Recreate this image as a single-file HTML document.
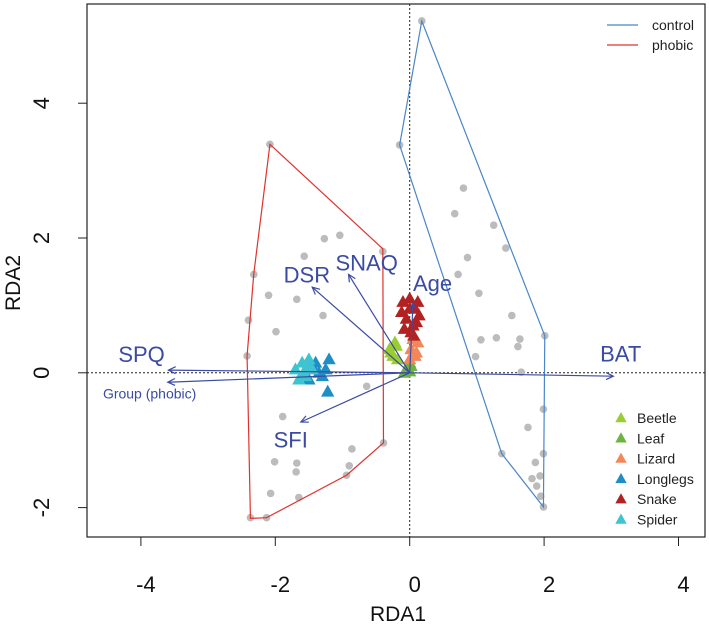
<!DOCTYPE html>
<html><head><meta charset="utf-8"><style>
body{margin:0;background:#fff}
svg{display:block;font-family:"Liberation Sans",Arial,sans-serif}
</style></head><body>
<svg id="chart" width="709" height="626" viewBox="0 0 709 626"></svg>
<script>
const controlX=[0.18,-0.15,0.80,0.67,1.25,1.43,0.86,0.72,1.03,1.52,2.01,1.06,1.29,1.64,1.61,0.98,1.66,1.99,1.76,1.37,1.99,1.87,1.82,1.94,1.89,1.95,1.99];
const controlY=[5.22,3.38,2.74,2.36,2.19,1.85,1.71,1.46,1.18,0.85,0.55,0.49,0.52,0.50,0.39,0.24,0.01,-0.54,-0.81,-1.20,-1.20,-1.33,-1.57,-1.53,-1.68,-1.83,-1.99];
const phobicX=[-2.08,-1.04,-1.27,-1.57,-0.40,-2.32,-2.10,-1.68,-1.29,-2.40,-1.99,-2.42,-0.64,-1.89,-0.86,-0.39,-2.01,-1.68,-1.69,-0.90,-0.94,-2.07,-1.65,-2.37,-2.13];
const phobicY=[3.39,2.04,1.99,1.73,1.80,1.46,1.15,1.09,0.85,0.78,0.61,0.25,-0.20,-0.65,-1.13,-1.04,-1.32,-1.34,-1.47,-1.38,-1.52,-1.79,-1.85,-2.15,-2.15];
const controlHullX=[0.18,-0.15,1.37,1.99,2.01];
const controlHullY=[5.22,3.38,-1.20,-1.99,0.55];
const phobicHullX=[-2.08,-0.40,-0.39,-0.94,-2.13,-2.37,-2.42,-2.32];
const phobicHullY=[3.39,1.84,-1.04,-1.52,-2.15,-2.16,0.25,1.47];
const arrowNames=["DSR","SNAQ","Age","SPQ","Group (phobic)","BAT","SFI"];
const arrowX=[-1.45,-0.91,0.05,-3.59,-3.60,3.03,-1.62];
const arrowY=[1.27,1.46,1.04,0.04,-0.14,-0.05,-0.73];
const labelX=[-1.53,-0.64,0.34,-3.99,-3.87,3.14,-1.77];
const labelY=[1.46,1.64,1.33,0.28,-0.31,0.29,-0.99];
const speciesNames=["Beetle","Leaf","Lizard","Longlegs","Snake","Spider"];
const speciesColors=["#9acd32","#6cb33f","#f4875a","#1e8fc6","#b22222","#3ec3d0"];
const speciesX=[[-0.30,-0.25,-0.20,-0.28,-0.18,-0.22],[-0.05,0.0,0.02,-0.08,0.0,-0.03],[0.02,0.08,0.12,0.05,0.10,0.0],[-1.45,-1.35,-1.25,-1.20,-1.30,-1.40,-1.22,-1.50],[-0.10,0.0,0.08,0.14,-0.05,0.05,0.12,-0.12,0.02,0.10,0.0,0.06,-0.08],[-1.70,-1.60,-1.55,-1.50,-1.65,-1.45,-1.58,-1.52]];
const speciesY=[[0.35,0.25,0.40,0.30,0.20,0.45],[0.05,0.02,0.10,0.0,0.15,0.08],[0.35,0.25,0.45,0.50,0.30,0.20],[0.10,0.0,0.05,0.20,-0.05,0.15,-0.28,-0.10],[1.05,1.10,0.95,0.85,0.80,0.70,1.05,0.90,0.60,0.75,0.95,0.55,0.65],[0.05,0.15,-0.05,0.20,-0.10,0.05,0.0,0.10]];
const xTicks=[-4,-2,0,2,4];
const yTicks=[-2,0,2,4];

const NS="http://www.w3.org/2000/svg";
const svg=document.getElementById('chart');
const X=v=>409.7+v*67.2;
const Y=v=>372.8-v*67.4;
function mk(tag,attrs,parent){const e=document.createElementNS(NS,tag);for(const k in attrs)e.setAttribute(k,attrs[k]);(parent||svg).appendChild(e);return e;}

let e=mk('rect',{x:87,y:4,width:618,height:533,fill:'none',stroke:'#222','stroke-width':1.2});


e=mk('line',{x1:X(0),x2:X(0),y1:4,y2:537,stroke:'#222','stroke-dasharray':'2,2'});


e=mk('line',{x1:87,x2:705,y1:Y(0),y2:Y(0),stroke:'#222','stroke-dasharray':'2,2'});


xTicks.forEach(t=>{
  let l=mk('line',{x1:X(t),x2:X(t),y1:537,y2:546,stroke:'#222'});
  
  
  let tx=mk('text',{x:X(t)+5,y:592,'text-anchor':'middle','font-size':22,fill:'#111'});tx.textContent=t;
  
  
});
yTicks.forEach(t=>{
  let l=mk('line',{x1:78,x2:87,y1:Y(t),y2:Y(t),stroke:'#222'});
  
  
  let tx=mk('text',{x:0,y:0,'text-anchor':'middle','font-size':22,fill:'#111',transform:`translate(49,${Y(t)}) rotate(-90)`});tx.textContent=t;
  
  
});
e=mk('text',{x:398,y:621,'text-anchor':'middle','font-size':21,fill:'#111'});e.textContent='RDA1';


e=mk('text',{x:0,y:0,'text-anchor':'middle','font-size':21,fill:'#111',transform:'translate(20,283) rotate(-90)'});e.textContent='RDA2';



function pts(xs,ys,name){xs.forEach((v,i)=>{let c=mk('circle',{cx:X(v),cy:Y(ys[i]),r:3.8,fill:'#bcbcbc'});
  
  });}
pts(controlX,controlY,'control-point');
pts(phobicX,phobicY,'phobic-point');
e=mk('polygon',{points:controlHullX.map((v,i)=>X(v)+','+Y(controlHullY[i])).join(' '),fill:'none',stroke:'#4a86c8','stroke-width':1.2});


e=mk('polygon',{points:phobicHullX.map((v,i)=>X(v)+','+Y(phobicHullY[i])).join(' '),fill:'none',stroke:'#e0322c','stroke-width':1.2});


function tri(cx,cy,s){return `${cx},${cy-s} ${cx-s*0.95},${cy+s*0.7} ${cx+s*0.95},${cy+s*0.7}`;}
speciesX.forEach((arr,k)=>{arr.forEach((v,i)=>{
  let t=mk('polygon',{points:tri(X(v),Y(speciesY[k][i]),7),fill:speciesColors[k]});
  
  
});});
arrowX.forEach((v,i)=>{
  const x2=X(v),y2=Y(arrowY[i]),x1=X(0),y1=Y(0);
  const a=Math.atan2(y2-y1,x2-x1),h=8,w=0.45;
  let g=mk('g',{stroke:'#3b4aa3','stroke-width':1.2,fill:'none'});
  
  
  mk('line',{x1,y1,x2,y2},g);
  mk('polyline',{points:`${x2-h*Math.cos(a-w)},${y2-h*Math.sin(a-w)} ${x2},${y2} ${x2-h*Math.cos(a+w)},${y2-h*Math.sin(a+w)}`},g);
  const small=arrowNames[i]==='Group (phobic)';
  let t=mk('text',{x:X(labelX[i]),y:Y(labelY[i])+(small?5:8),'text-anchor':'middle','font-size':small?14:22,fill:'#3b4aa3'});
  t.textContent=arrowNames[i];
  
  
});
[['control','#4a86c8',25],['phobic','#e0322c',45]].forEach(d=>{
  let g=mk('g',{});
  
  
  mk('line',{x1:607,x2:638,y1:d[2],y2:d[2],stroke:d[1],'stroke-width':1.2},g);
  let t=mk('text',{x:652,y:d[2]+5,'font-size':14,fill:'#222'},g);t.textContent=d[0];
});
speciesNames.forEach((n,k)=>{
  const y=418+k*20.3;
  let g=mk('g',{});
  
  
  mk('polygon',{points:tri(621,y,6),fill:speciesColors[k]},g);
  let t=mk('text',{x:637,y:y+5,'font-size':14,fill:'#222'},g);t.textContent=n;
});
</script>
</body></html>
